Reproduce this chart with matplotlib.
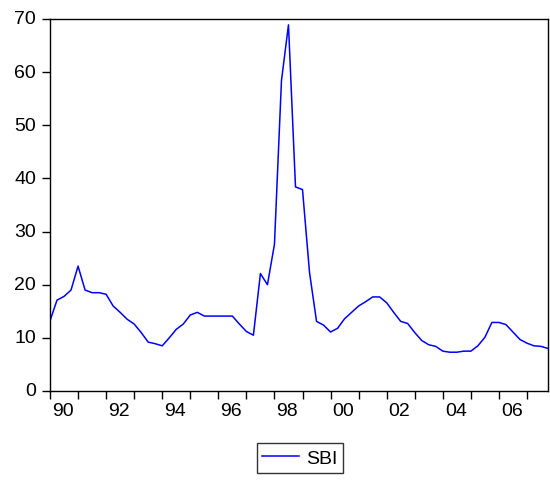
import matplotlib
matplotlib.use("Agg")
import matplotlib.pyplot as plt
import matplotlib.transforms as mtransforms
import numpy as np

plt.rcParams['font.family'] = ['Liberation Sans', 'DejaVu Sans']

start_year = 1990
sbi = [13.2, 17.1, 17.8, 19.0, 23.5, 19.0, 18.5, 18.5,
       18.2, 16.0, 14.8, 13.5, 12.6, 11.0, 9.2, 8.9,
       8.5, 10.0, 11.6, 12.6, 14.3, 14.8, 14.1, 14.1,
       14.1, 14.1, 14.1, 12.6, 11.2, 10.5, 22.1, 20.0,
       27.6, 58.4, 68.9, 38.4, 37.9, 22.3, 13.1, 12.4,
       11.1, 11.8, 13.6, 14.8, 16.0, 16.8, 17.7, 17.7,
       16.6, 14.8, 13.1, 12.7, 11.0, 9.5, 8.7, 8.4,
       7.5, 7.3, 7.3, 7.5, 7.5, 8.5, 10.1, 12.9,
       12.9, 12.5, 11.1, 9.7, 9.0, 8.5, 8.4, 8.0]
years = np.arange(1990, 2008)
label_years = [1990, 1992, 1994, 1996, 1998, 2000, 2002, 2004, 2006]
year_labels = ["90", "92", "94", "96", "98", "00", "02", "04", "06"]
y_ticks = [0, 10, 20, 30, 40, 50, 60, 70]

t = start_year + np.arange(len(sbi)) / 4.0

fig = plt.figure(figsize=(5.5, 4.85), dpi=100)
ax = fig.add_axes([50/550, 93/485, 498/550, 372/485])
line, = ax.plot(t, sbi, color='#0000FF', linewidth=1.1, label='SBI')

ax.set_xlim(t[0], t[-1])
ax.set_ylim(0, 70)
ax.set_yticks(y_ticks)
ax.set_yticklabels([str(v) for v in y_ticks])

ax.set_xticks(years)
ax.set_xticklabels([])
ax.set_xticks([y + 0.46 for y in label_years], minor=True)
ax.set_xticklabels(year_labels, minor=True)

ax.tick_params(axis='x', which='major', direction='out', length=6, width=1, color='black')
ax.tick_params(axis='x', which='minor', length=0, pad=8, labelsize=14)
ax.tick_params(axis='y', direction='out', length=6, width=1, pad=4, labelsize=14)

offset = mtransforms.ScaledTranslation(0, 2/100, fig.dpi_scale_trans)
for lab in ax.get_yticklabels():
    lab.set_transform(lab.get_transform() + offset)

for s in ax.spines.values():
    s.set_linewidth(1.0)
    s.set_color('black')

fig.legend(handles=[line], loc='center', bbox_to_anchor=(300/550, 1 - 459/485),
           frameon=True, fancybox=False, edgecolor='black', fontsize=14,
           handlelength=1.9, borderpad=0.3, handletextpad=0.35)

fig.savefig("out.png", dpi=100)
